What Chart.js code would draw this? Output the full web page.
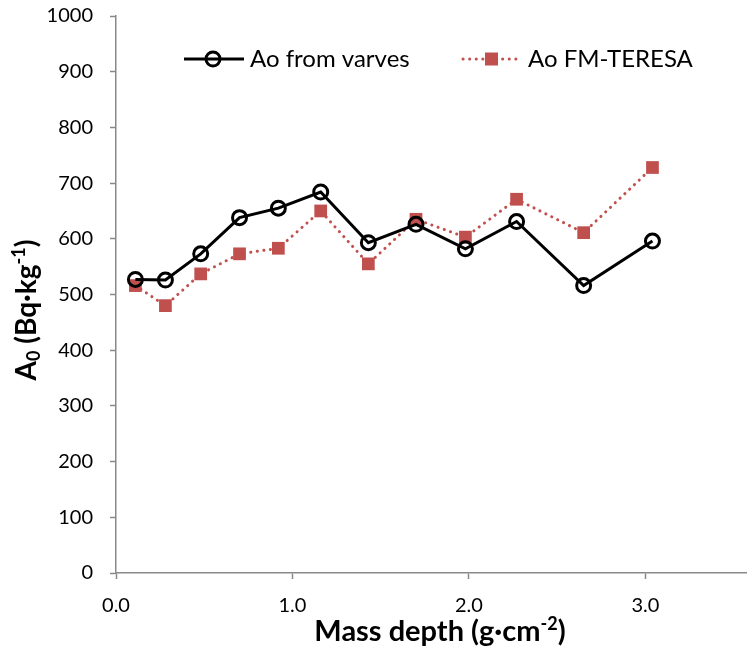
<!DOCTYPE html>
<html>
<head>
<meta charset="utf-8">
<script src="https://cdn.jsdelivr.net/npm/chart.js@4"></script>
<style>
  html, body { margin: 0; padding: 0; background: #fff; }
  #wrap { width: 756px; height: 652px; }
</style>
</head>
<body>
<div id="wrap"><canvas id="chart" width="756" height="652"></canvas></div>
<script>
// mass depth (g/cm2) of each sample
const depth = [0.11, 0.28, 0.48, 0.70, 0.92, 1.16, 1.43, 1.70, 1.98, 2.27, 2.65, 3.04];
// A0 in Bq/kg
const varves = [527, 526, 573, 638, 655, 684, 593, 626, 582, 631, 516, 596];
const teresa = [516, 480, 537, 573, 583, 650, 555, 635, 603, 671, 611, 728];
const xTicks = [0, 1, 2, 3];
const seriesNames = ["Ao from varves", "Ao FM-TERESA"];

const FONT = "Lato, 'Open Sans', sans-serif";
const AXIS_GREY = "#898989";
const RED = "#C0504D";

function pts(ys) {
    return depth.map((d, i) => ({ x: d, y: ys[i] }));
}

// draw text pieces (normal / sub / sup) one after another, centred on cx
function richText(ctx, parts, cx, baseY) {
    let total = 0;
    parts.forEach(p => {
        ctx.font = "bold " + p.size + "px " + FONT;
        p.w = ctx.measureText(p.t).width;
        total += p.w;
    });
    let x = cx - total / 2;
    parts.forEach(p => {
        ctx.font = "bold " + p.size + "px " + FONT;
        ctx.fillText(p.t, x, baseY + (p.dy || 0));
        x += p.w;
    });
}

// axis titles with real sub/superscripts + Excel-style legend
const excelExtras = {
    id: "excelExtras",
    afterDraw(chart) {
        const ctx = chart.ctx;
        ctx.save();
        ctx.fillStyle = "#000";
        ctx.textBaseline = "alphabetic";
        ctx.textAlign = "left";

        // x title
        richText(ctx, [
            { t: "Mass depth (g·cm", size: 29 },
            { t: "-2", size: 18, dy: -11 },
            { t: ")", size: 29 }
        ], 440, 641);

        // y title (rotated)
        ctx.save();
        ctx.translate(36, 310);
        ctx.rotate(-Math.PI / 2);
        richText(ctx, [
            { t: "A", size: 28 },
            { t: "0", size: 18, dy: 4 },
            { t: " (Bq·kg", size: 28 },
            { t: "-1", size: 18, dy: -11 },
            { t: ")", size: 28 }
        ], 0, 0);
        ctx.restore();

        // legend
        const y = 59;
        ctx.font = "24px " + FONT;
        ctx.textBaseline = "middle";

        ctx.strokeStyle = "#000";
        ctx.lineWidth = 3;
        ctx.beginPath();
        ctx.moveTo(184, y);
        ctx.lineTo(244, y);
        ctx.stroke();
        ctx.beginPath();
        ctx.arc(213, y, 7, 0, Math.PI * 2);
        ctx.stroke();
        ctx.fillText(seriesNames[0], 250, y);

        ctx.strokeStyle = RED;
        ctx.lineWidth = 3;
        ctx.lineCap = "round";
        ctx.setLineDash([0.1, 6.5]);
        ctx.beginPath();
        ctx.moveTo(463, y);
        ctx.lineTo(518, y);
        ctx.stroke();
        ctx.setLineDash([]);
        ctx.fillStyle = RED;
        ctx.fillRect(485, y - 6.5, 13, 13);
        ctx.fillStyle = "#000";
        ctx.fillText(seriesNames[1], 528, y);
        ctx.restore();
    }
};

const ctx = document.getElementById("chart").getContext("2d");
const myChart = new Chart(ctx, {
    type: "line",
    data: {
        datasets: [{
            label: seriesNames[0],
            data: pts(varves),
            borderColor: "#000",
            borderWidth: 3,
            pointStyle: "circle",
            pointRadius: 7,
            pointBorderWidth: 3,
            pointBackgroundColor: "rgba(0,0,0,0)",
            pointBorderColor: "#000",
            tension: 0
        }, {
            label: seriesNames[1],
            data: pts(teresa),
            borderColor: RED,
            borderWidth: 3,
            borderDash: [0.1, 6.5],
            borderCapStyle: "round",
            pointStyle: "rect",
            pointRadius: 9,
            pointBorderWidth: 0,
            pointBackgroundColor: RED,
            pointBorderColor: RED,
            tension: 0
        }]
    },
    options: {
        responsive: false,
        animation: false,
        layout: { padding: { top: 16, right: 0, left: 0, bottom: 0 } },
        plugins: {
            legend: { display: false },
            tooltip: { enabled: false }
        },
        scales: {
            x: {
                type: "linear",
                min: 0,
                max: 3.57,
                afterBuildTicks: (axis) => {
                    axis.ticks = xTicks.map(v => ({ value: v }));
                },
                afterFit: (axis) => {
                    axis.height = 79;
                    axis.paddingLeft = 0;
                    axis.paddingRight = 0;
                },
                border: { color: AXIS_GREY, width: 1.5 },
                grid: { drawOnChartArea: false, color: AXIS_GREY, tickLength: 6, tickWidth: 1.5 },
                ticks: {
                    color: "#000",
                    font: { family: FONT, size: 20 },
                    padding: 15,
                    maxRotation: 0,
                    callback: (v) => Number(v).toFixed(1)
                }
            },
            y: {
                min: 0,
                max: 1000,
                afterFit: (axis) => {
                    axis.width = 116;
                    // label padding would otherwise push the plot top down
                    axis.paddingTop = 0;
                    axis.paddingBottom = 0;
                },
                border: { color: AXIS_GREY, width: 1.5 },
                grid: { drawOnChartArea: false, color: AXIS_GREY, tickLength: 6, tickWidth: 1.5 },
                ticks: {
                    stepSize: 100,
                    color: "#000",
                    font: { family: FONT, size: 20 },
                    padding: 17,
                    callback: (v) => String(v)
                }
            }
        }
    },
    plugins: [excelExtras]
});
</script>
</body>
</html>
